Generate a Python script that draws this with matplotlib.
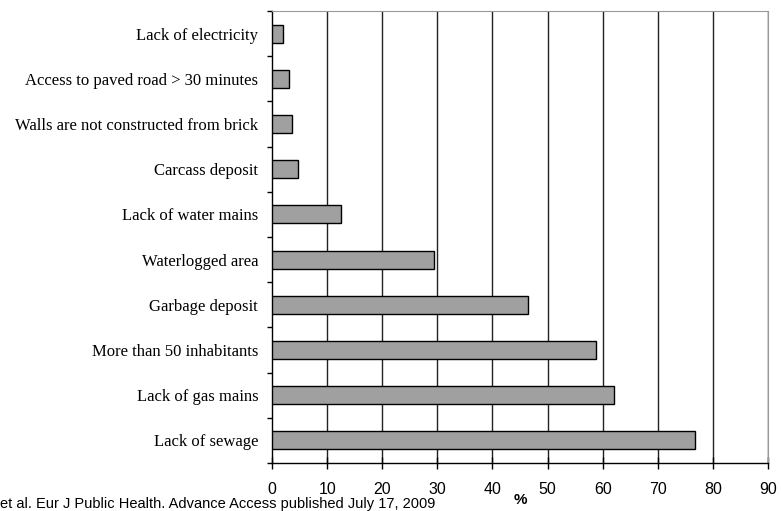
import numpy as np
import matplotlib
matplotlib.use("Agg")
from matplotlib import pyplot as plt
from matplotlib.ticker import FixedLocator

categories = ["Lack of electricity", "Access to paved road > 30 minutes",
              "Walls are not constructed from brick", "Carcass deposit",
              "Lack of water mains", "Waterlogged area", "Garbage deposit",
              "More than 50 inhabitants", "Lack of gas mains", "Lack of sewage"]
values = [2.0, 3.0, 3.7, 4.7, 12.6, 29.3, 46.5, 58.8, 62.1, 76.7]
xticks = [0, 10, 20, 30, 40, 50, 60, 70, 80, 90]

serif = ["Liberation Serif", "DejaVu Serif"]
sans = ["Liberation Sans", "DejaVu Sans"]

fig = plt.figure(figsize=(7.81, 5.11), dpi=100)
ax = fig.add_axes([0.3483, 0.0939, 0.9834 - 0.3483, 0.9785 - 0.0939])

n = len(categories)
y = np.arange(n)
ax.barh(y, values, height=0.4, color="#a0a0a0", edgecolor="black", linewidth=1, zorder=3)
ax.set_ylim(n - 0.5, -0.5)
ax.set_xlim(0, 90)

# vertical grid lines
for v in xticks[1:]:
    ax.axvline(v, color="#222222", linewidth=1, zorder=1)

ax.set_xticks(xticks)
ax.set_xticklabels([str(t) for t in xticks], family=sans, fontsize=11.5)
ax.tick_params(axis="x", direction="inout", length=9, width=1, pad=9)

ax.set_yticks(y)
ax.set_yticklabels(categories, family=serif, fontsize=12)
ax.tick_params(axis="y", which="major", length=0, pad=10)
ax.yaxis.set_minor_locator(FixedLocator(np.arange(n + 1) - 0.5))
ax.tick_params(axis="y", which="minor", direction="out", length=3.6, width=1)

ax.spines["left"].set_linewidth(1)
ax.spines["bottom"].set_linewidth(1)
ax.spines["top"].set_color("#999999")
ax.spines["right"].set_color("#999999")

ax.set_xlabel("%", family=sans, fontsize=11, fontweight="bold", labelpad=-3)

fig.text(0.0, 0.006, "et al. Eur J Public Health. Advance Access published July 17, 2009",
         family=sans, fontsize=10.5, ha="left", va="baseline")

fig.savefig("out.png", dpi=100)
